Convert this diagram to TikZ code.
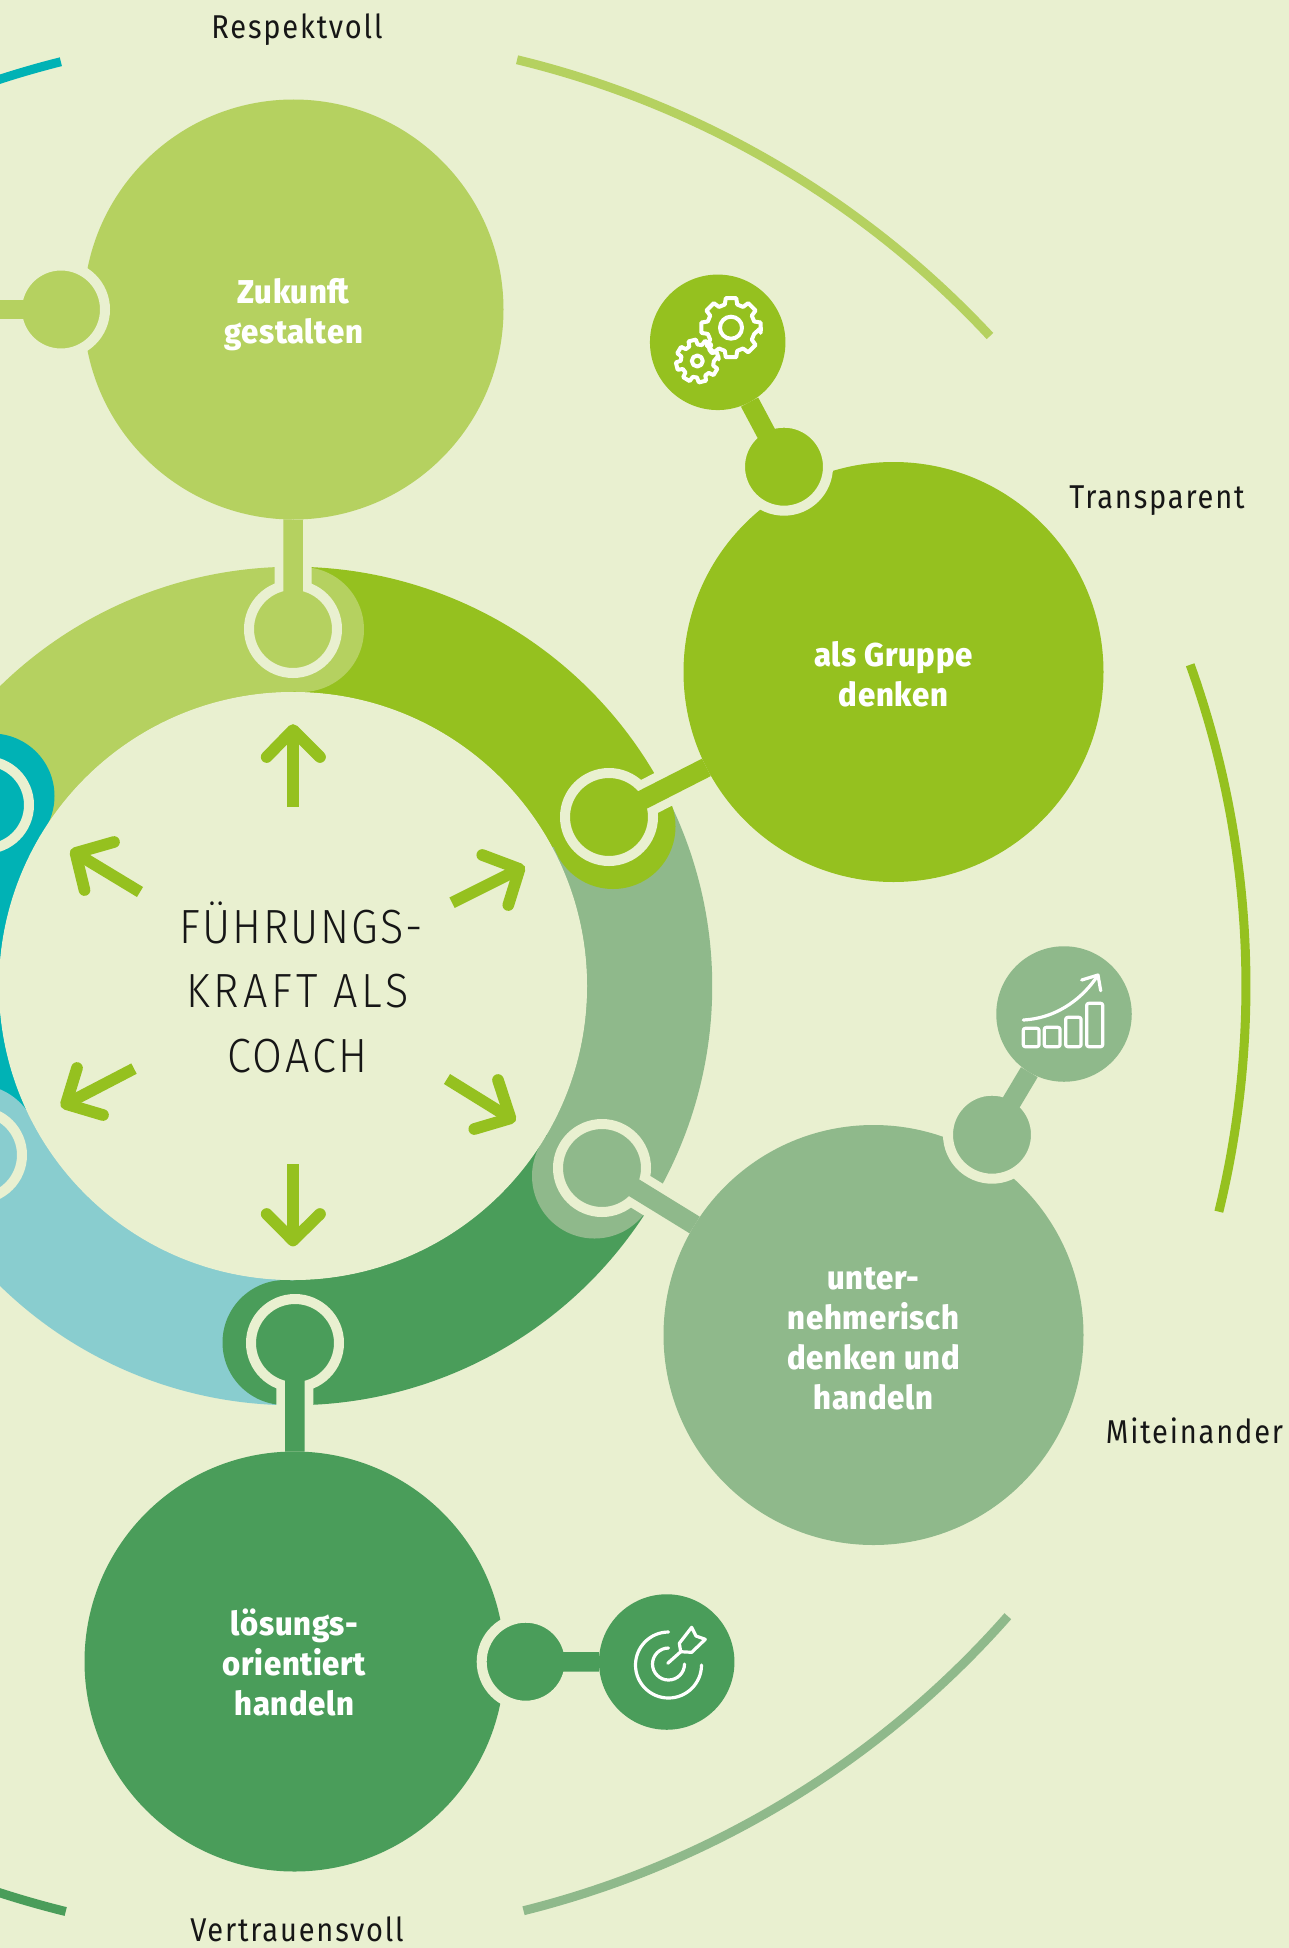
\documentclass[tikz,border=0pt]{standalone}
\usepackage{fontspec}
\setmainfont{Fira Sans}
\newfontfamily\labfont[LetterSpace=5.5,FakeStretch=0.88]{Fira Sans}
\newfontfamily\boldfont[LetterSpace=2,FakeStretch=0.94,Ligatures={Common,Rare}]{Fira Sans ExtraBold}
\newfontfamily\titlefont[LetterSpace=4,FakeStretch=0.9]{Fira Sans Light}
\newfontfamily\titlewide[LetterSpace=8,FakeStretch=0.9]{Fira Sans Light}
\newfontfamily\titlemid[LetterSpace=6,FakeStretch=0.9]{Fira Sans Light}
\newcommand{\topfill}{\rule{0pt}{40pt}}
\definecolor{bgc}{HTML}{E9F0D0}
\definecolor{lgreen}{HTML}{B5D160}
\definecolor{green}{HTML}{95C11F}
\definecolor{sage}{HTML}{8FB98B}
\definecolor{dgreen}{HTML}{4A9D5A}
\definecolor{teal}{HTML}{00B2B5}
\definecolor{lblue}{HTML}{89CDCF}
\definecolor{ink}{HTML}{161616}
\tikzset{
  x=1pt,y=1pt,
  seg/.style={line width=125.5pt,#1},
  capc/.style={circle,minimum size=125pt,inner sep=0pt,outer sep=0pt,fill=#1},
  knob/.style={circle,minimum size=88pt,inner sep=0pt,outer sep=0pt,line width=10pt,draw=bgc,fill=#1},
  big/.style={circle,minimum size=420pt,inner sep=0pt,outer sep=0pt,fill=#1,text=white,align=center,font=\boldfont\fontsize{33}{40}\selectfont},
  icon/.style={circle,minimum size=135.5pt,inner sep=0pt,outer sep=0pt,fill=#1},
  gap/.style={bgc,line width=37pt},
  stem/.style={#1,line width=19.5pt},
  outerarc/.style={#1,line width=9pt},
  lab/.style={text=ink,font=\labfont\fontsize{33}{38}\selectfont,inner sep=0pt},
  cstem/.style={green,line width=11.7pt},
  chead/.style={green,line width=11.7pt,line cap=round,line join=round},
  ico/.style={white,line width=3.2pt,line join=round,line cap=round},
  gearline/.style={white,line width=4pt,line join=round,line cap=round},
}
\newcommand{\gearshape}[5]{%
  \begin{scope}[shift={(#1,#2)},rotate=#5]
    \draw[gearline] (0:#3) \foreach \a in {0,45,...,315}{
      -- (\a-10:#3) -- (\a+10:#3) -- (\a+15:#4) -- (\a+30:#4) } -- cycle;
  \end{scope}}
\begin{document}
\begin{tikzpicture}
\useasboundingbox (0,-1948) rectangle (1289,0);
\fill[bgc] (0,-1948) rectangle (1289,0);
\clip (0,-1948) rectangle (1289,0);
% centres
\coordinate (ctr) at (293,-986);
\coordinate (pTop) at (293,-629);
\coordinate (pGreen) at (609,-817);
\coordinate (pSage) at (602,-1168);
\coordinate (pDark) at (295,-1343);
\coordinate (pBlue) at (-22,-1155);
\coordinate (pTeal) at (-15,-805);
\coordinate (cZuk) at (293.5,-309.5);
\coordinate (cGru) at (893.5,-672);
\coordinate (cUnt) at (873.5,-1335);
\coordinate (cLoe) at (294.5,-1661.5);
\coordinate (lStub) at (-60,-309.5);
% outer arcs
\draw[outerarc=teal] (ctr) ++(104.1:953) arc[start angle=104.1,end angle=120,radius=953pt];
\draw[outerarc=lgreen] (ctr) ++(76.4:953) arc[start angle=76.4,end angle=43,radius=953pt];
\draw[outerarc=green] (ctr) ++(19.7:953) arc[start angle=19.7,end angle=-13.7,radius=953pt];
\draw[outerarc=sage] (ctr) ++(-41.4:953) arc[start angle=-41.4,end angle=-76,radius=953pt];
\draw[outerarc=dgreen] (ctr) ++(256.2:953) arc[start angle=256.2,end angle=240,radius=953pt];
% ring sectors
\draw[seg=green] (ctr) ++(90:356.5) arc[start angle=90,end angle=28,radius=356.5pt];
\draw[seg=sage] (ctr) ++(28:356.5) arc[start angle=28,end angle=-30.5,radius=356.5pt];
\draw[seg=dgreen] (ctr) ++(-30.5:356.5) arc[start angle=-30.5,end angle=-90,radius=356.5pt];
\draw[seg=lblue] (ctr) ++(-90:356.5) arc[start angle=-90,end angle=-152,radius=356.5pt];
\draw[seg=teal] (ctr) ++(-152:356.5) arc[start angle=-152,end angle=-210.4,radius=356.5pt];
\draw[seg=lgreen] (ctr) ++(149.6:356.5) arc[start angle=149.6,end angle=90,radius=356.5pt];
% caps
\node[capc=lgreen] (capTop) at (301.5,-629.5) {};
\node[capc=green] (capGreen) at (613,-826.5) {};
\node[capc=sage] (capSage) at (594.5,-1176) {};
\node[capc=dgreen] (capDark) at (285,-1342.5) {};
\node[capc=lblue] (capBlue) at (-24,-1147) {};
\node[capc=teal] (capTeal) at (-8,-796) {};
% inner disc
\node[circle,minimum size=588pt,inner sep=0pt,outer sep=0pt,fill=bgc] (hub) at (ctr) {};
\node[text=ink,align=center,inner sep=0pt,font=\titlefont\fontsize{48}{64.5}\selectfont] (title) at (297.5,-987) {\hspace*{7.4pt}FÜHRUNGS-\\{\titlewide\fontsize{48}{64.5}\selectfont KRAFT\hspace{16pt}ALS}\\{\titlemid\fontsize{48}{64.5}\selectfont COACH}};
% gap stems
\draw[gap] (pTop) -- (cZuk);
\draw[gap] (pGreen) -- (cGru);
\draw[gap] (pSage) -- (cUnt);
\draw[gap] (pDark) -- (cLoe);
% ring knobs
\node[knob=lgreen] (kTop) at (pTop) {};
\node[knob=green] (kGreen) at (pGreen) {};
\node[knob=sage] (kSage) at (pSage) {};
\node[knob=dgreen] (kDark) at (pDark) {};
\node[knob=lblue] (kBlue) at (pBlue) {};
\node[knob=teal] (kTeal) at (pTeal) {};
% big circles
\node[big=lgreen] (zuk) at (cZuk) {\topfill Zukunft\\gestalten\strut};
\node[big=green] (gru) at (cGru) {\topfill als Gruppe\\denken\strut};
\node[big=sage] (unt) at (cUnt) {\topfill unter-\\nehmerisch\\denken und\\handeln\strut};
\node[big=dgreen] (loe) at (cLoe) {\topfill lösungs-\\orientiert\\handeln\strut};
% stems ring - big
\draw[stem=lgreen] (kTop.center) -- (zuk);
\draw[stem=green] (kGreen.center) -- (gru);
\draw[stem=sage] (kSage.center) -- (unt);
\draw[stem=dgreen] (kDark.center) -- (loe);
% secondary knobs
\node[knob=lgreen] (sZuk) at (61,-309.5) {};
\node[knob=green] (sGru) at (784,-466.7) {};
\node[knob=sage] (sUnt) at (992,-1134.7) {};
\node[knob=dgreen] (sLoe) at (525.7,-1661.7) {};
% icon discs
\node[icon=green] (iGru) at (717.7,-342.3) {};
\node[icon=sage] (iUnt) at (1064,-1014) {};
\node[icon=dgreen] (iLoe) at (666.7,-1662) {};
\draw[stem=lgreen] (sZuk.center) -- (lStub);
\draw[stem=green] (sGru.center) -- (iGru);
\draw[stem=sage] (sUnt.center) -- (iUnt);
\draw[stem=dgreen] (sLoe.center) -- (iLoe);
% gears
\gearshape{731}{-327.7}{30}{24}{0}
\draw[gearline] (731,-327.7) circle[radius=11];
\gearshape{697.3}{-361}{21.5}{16.5}{14}
\draw[gearline] (697.3,-361) circle[radius=5.5];
% chart
\foreach \xa/\xb/\yt in {1023.3/1039/1028.3,1044.3/1060/1027.3,1065.7/1081/1017.3,1086.7/1102.7/1003.3}
  \draw[ico,rounded corners=2pt] (\xa,-1046.7) rectangle (\xb,-\yt);
\draw[ico] (1023.3,-1020) .. controls (1060,-1018) and (1085,-995) .. (1097.3,-976);
\draw[ico] (1081.7,-980) -- (1098,-975) -- (1100.7,-990.7);
% target
\draw[ico] (668.5,-1632) arc[start angle=90,end angle=360,radius=33];
\draw[ico] (668.5,-1648) arc[start angle=90,end angle=360,radius=16];
\draw[ico] (667.7,-1663.3) -- (680.7,-1651.7);
\draw[ico] (679.3,-1643.3) -- (691.7,-1627.3) -- (696,-1636) -- (705.3,-1639.3) -- (691.7,-1652.3) -- (680.7,-1651.7) -- cycle;
% centre arrows
\foreach \tx/\ty/\ax/\ay/\bx/\by/\sx/\sy in {
  293/-730/266.7/-757/320/-757/293/-806.7,
  293/-1240.5/266.7/-1214/320/-1214/293/-1164.3,
  519.5/-869/482.3/-855/508.3/-905/452/-902.7,
  510.5/-1118.3/474.3/-1129/498/-1080/447/-1079,
  75.5/-853/114/-842/84.5/-890/140/-892,
  66/-1104/77/-1068/103/-1115/134/-1068.6}{
  \draw[cstem] (\sx,\sy) -- (\tx,\ty);
  \draw[chead] (\ax,\ay) -- (\tx,\ty) -- (\bx,\by);
}
% labels
\node[lab] (lRes) at (297,-30) {Respektvoll};
\node[lab] (lTra) at (1157,-501) {Transparent};
\node[lab] (lMit) at (1194.5,-1431) {Miteinander};
\node[lab] (lVer) at (297,-1929.5) {Vertrauensvoll};
\end{tikzpicture}
\end{document}
